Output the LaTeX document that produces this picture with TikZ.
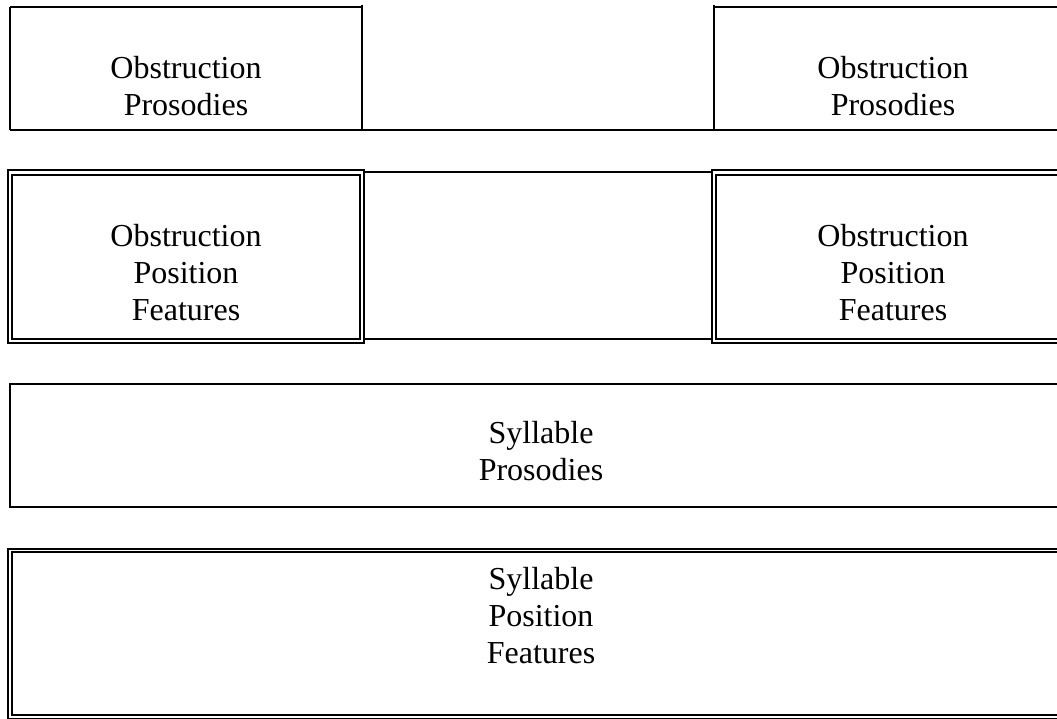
\documentclass[tikz,border=0pt]{standalone}
\usepackage{fontspec}
\setmainfont{Liberation Serif}
\begin{document}
\begin{tikzpicture}[x=1pt,y=-1pt,
  single/.style={line width=2pt},
  dbl/.style={line width=1.6pt},
  lbl/.style={align=center,inner sep=0pt,font=\fontsize{32}{37}\selectfont}]
\clip (0,0) rectangle (1057,719);
\fill[white] (0,0) rectangle (1057,719);
% Row 1: obstruction prosodies
\draw[single] (10,7) -- (362,7);
\draw[single] (10,7) -- (10,130);
\draw[single] (362,5) -- (362,130);
\draw[single] (10,130) -- (1072,130);
\draw[single] (714,5) -- (714,130);
\draw[single] (714,7) -- (1072,7) -- (1072,130);
% Row 2: obstruction position features
\draw[dbl] (8,170) rectangle (364,343);
\draw[dbl] (12,175) rectangle (360,339);
\draw[single] (364,172) -- (712,172);
\draw[single] (364,339) -- (712,339);
\draw[dbl] (712,170) rectangle (1076,343);
\draw[dbl] (716,175) rectangle (1072,339);
% Row 3: syllable prosodies
\draw[single] (10,384) rectangle (1072,507);
% Row 4: syllable position features
\draw[dbl] (8,549) rectangle (1076,719);
\draw[dbl] (12,552) rectangle (1072,715);
% Labels
\node[lbl] (op1) at (186,86) {Obstruction\\Prosodies};
\node[lbl] (op2) at (893,86) {Obstruction\\Prosodies};
\node[lbl] (of1) at (186,273) {Obstruction\\Position\\Features};
\node[lbl] (of2) at (893,273) {Obstruction\\Position\\Features};
\node[lbl] (sp) at (541,451) {Syllable\\Prosodies};
\node[lbl] (sf) at (541,616) {Syllable\\Position\\Features};
\end{tikzpicture}
\end{document}
